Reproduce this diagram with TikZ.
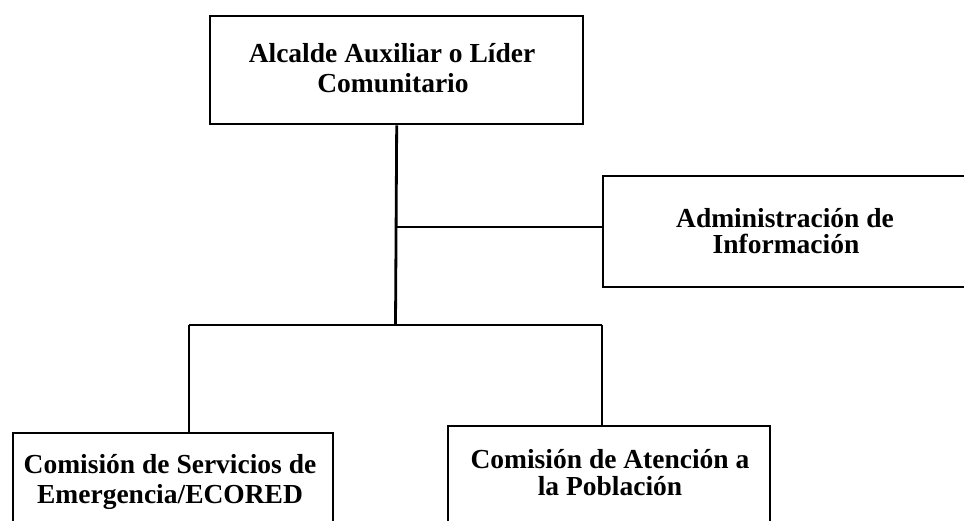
\documentclass[tikz,border=0pt]{standalone}
\usepackage{fontspec}
\setmainfont{Liberation Serif}
\begin{document}
\begin{tikzpicture}[x=1pt,y=-1pt,
  box/.style={draw=black, line width=2.4pt, rectangle, inner sep=0pt, anchor=north west},
  lbl/.style={anchor=base, inner sep=0pt, font=\fontsize{27.5}{28}\selectfont\bfseries},
  conn/.style={draw=black, line width=2.8pt}]
\useasboundingbox (0,0) rectangle (964,521);
\clip (0,0) rectangle (964,521);
% boxes
\node[box, minimum width=373pt, minimum height=108pt] (top) at (209,15) {};
\node[box, minimum width=380pt, minimum height=111pt] (adm) at (602,175) {};
\node[box, minimum width=320pt, minimum height=120pt] (eco) at (12,432) {};
\node[box, minimum width=322pt, minimum height=125pt] (pob) at (447,425) {};
% labels
\node[lbl] (top1) at (392,63) {Alcalde Auxiliar o Líder};
\node[lbl] (top2) at (393,93) {Comunitario};
\node[lbl] (adm1) at (785,228) {Administración de};
\node[lbl] (adm2) at (786,254) {Información};
\node[lbl] (eco1) at (170,473) {Comisión de Servicios de};
\node[lbl] (eco2) at (170,503) {Emergencia/ECORED};
\node[lbl] (pob1) at (610,468) {Comisión de Atención a};
\node[lbl] (pob2) at (610,495) {la Población};
% junctions
\coordinate (jA) at (395.5,227);
\coordinate (jB) at (395.5,325);
\coordinate (jL) at (189,325);
\coordinate (jR) at (602,325);
% connectors
\draw[conn] (top.south) -- (jB);
\draw[conn] (jA) -- (jA -| adm.west);
\draw[conn] (jL) -- (jR);
\draw[conn] (jL) -- (jL |- eco.north);
\draw[conn] (jR) -- (jR |- pob.north);
\end{tikzpicture}
\end{document}
